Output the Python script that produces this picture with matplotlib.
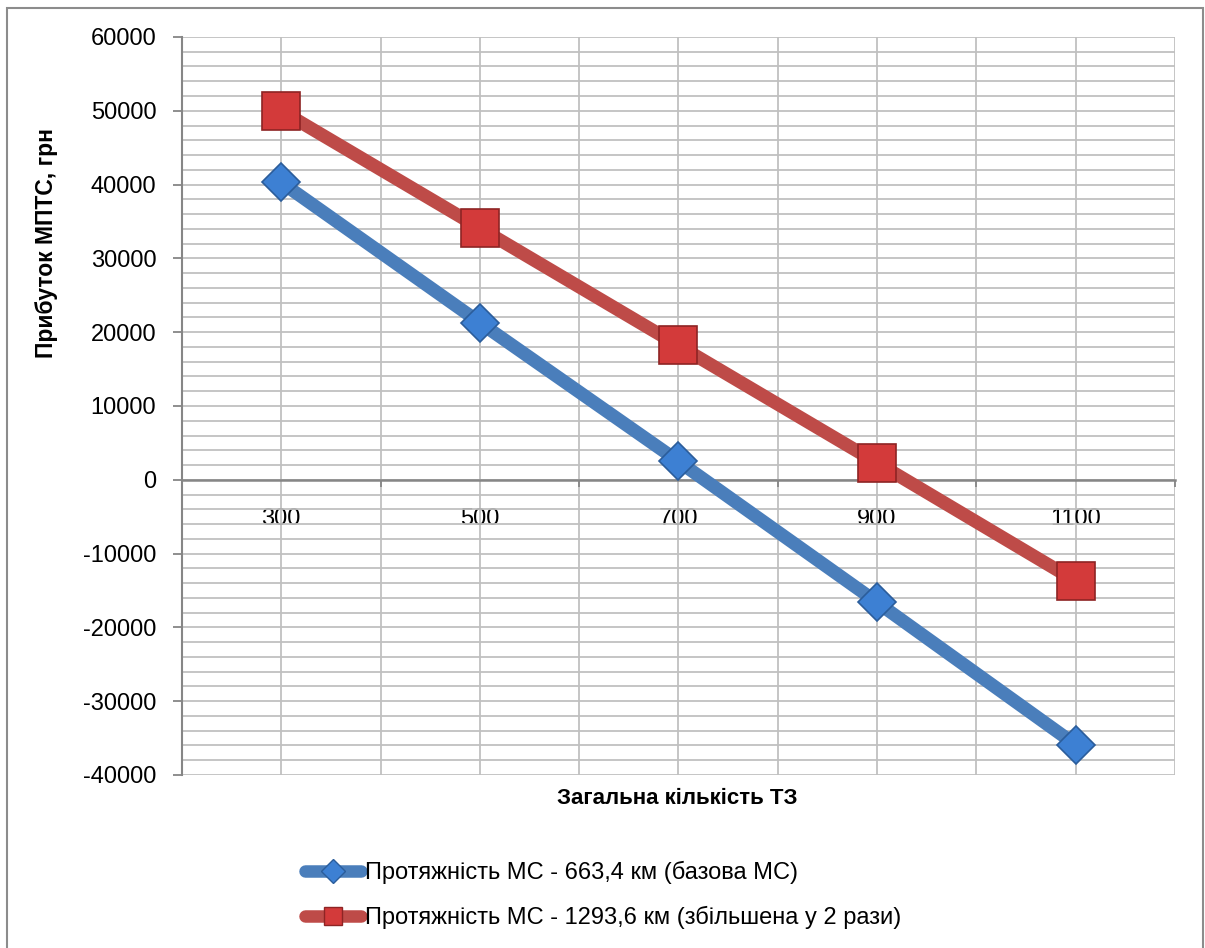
import matplotlib.pyplot as plt
import matplotlib.patches as mpatches
from matplotlib.lines import Line2D
from matplotlib.ticker import MultipleLocator
import numpy as np

# chart data
vehicles = ['300', '500', '700', '900', '1100']
profit_base = [40300, 21300, 2500, -16600, -35900]
profit_double = [50000, 34100, 18200, 2300, -13700]
label_base = 'Протяжність МС - 663,4 км (базова МС)'
label_double = 'Протяжність МС - 1293,6 км (збільшена у 2 рази)'

plt.rcParams['font.family'] = ['Liberation Sans', 'DejaVu Sans']
plt.rcParams['axes.unicode_minus'] = False

blue_line, blue_face, blue_edge = '#4a7ebb', '#3d80d3', '#2b5d9b'
red_line, red_face, red_edge = '#be4b48', '#d33a3a', '#8e2424'

fig = plt.figure(figsize=(12.05, 9.48), dpi=100)
ax = fig.add_axes([0.151, 0.1825, 0.824, 0.7785])

x = np.arange(len(vehicles))

ax.plot(x, profit_base, color=blue_line, lw=9.5, solid_capstyle='round',
        marker='D', ms=19, mfc=blue_face, mec=blue_edge, mew=1.2, zorder=3)
ax.plot(x, profit_double, color=red_line, lw=9.5, solid_capstyle='round',
        marker='s', ms=27, mfc=red_face, mec=red_edge, mew=1.2, zorder=3)

ax.set_xlim(-0.5, len(vehicles) - 0.5)
ax.set_ylim(-40000, 60000)

# gridlines: every 2000 horizontally, every half category vertically
ax.yaxis.set_major_locator(MultipleLocator(10000))
ax.yaxis.set_minor_locator(MultipleLocator(2000))
ax.xaxis.set_minor_locator(MultipleLocator(0.5))
ax.set_xticks(x)
ax.set_xticklabels(vehicles)
ax.grid(which='both', color='#c0c0c0', lw=1.3, zorder=0)
ax.set_axisbelow(True)

for side in ['top', 'right']:
    ax.spines[side].set_visible(False)
ax.spines['left'].set_color('#868686')
ax.spines['left'].set_linewidth(1.5)
ax.spines['bottom'].set_position(('data', 0))
ax.spines['bottom'].set_color('#868686')
ax.spines['bottom'].set_linewidth(1.8)

ax.tick_params(axis='y', which='major', length=6.5, width=1.3, color='#868686',
               labelsize=17, pad=12)
ax.tick_params(axis='y', which='minor', length=0)
ax.tick_params(axis='x', which='major', length=0, labelsize=17, pad=20)
ax.tick_params(axis='x', which='minor', length=5, width=1.3, color='#868686',
               direction='out')

fig.text(0.039, 1 - 243 / 948, 'Прибуток МПТС, грн', rotation=90, ha='center',
         va='center', fontsize=16.5, fontweight='bold')
fig.text(677 / 1205, 1 - 798 / 948, 'Загальна кількість ТЗ', ha='center',
         va='center', fontsize=16, fontweight='bold')

# legend handles use smaller markers than the plotted series
handles = [
    Line2D([], [], color=blue_line, lw=9, solid_capstyle='round', marker='D',
           ms=12, mfc=blue_face, mec=blue_edge, mew=1),
    Line2D([], [], color=red_line, lw=9, solid_capstyle='round', marker='s',
           ms=13, mfc=red_face, mec=red_edge, mew=1),
]
fig.legend(handles, [label_base, label_double], loc='center left',
           bbox_to_anchor=(0.2527, 1 - 895 / 948), frameon=False,
           fontsize=17, handlelength=2.4, handletextpad=0.15, labelspacing=0.92,
           borderaxespad=0, borderpad=0)

# chart frame
fig.patches.append(mpatches.Rectangle((7 / 1205, -0.05), 1196 / 1205,
                                      1.05 - 8 / 948, transform=fig.transFigure,
                                      fill=False, ec='#8c8c8c', lw=1.5))

fig.savefig('out.png', dpi=100)
